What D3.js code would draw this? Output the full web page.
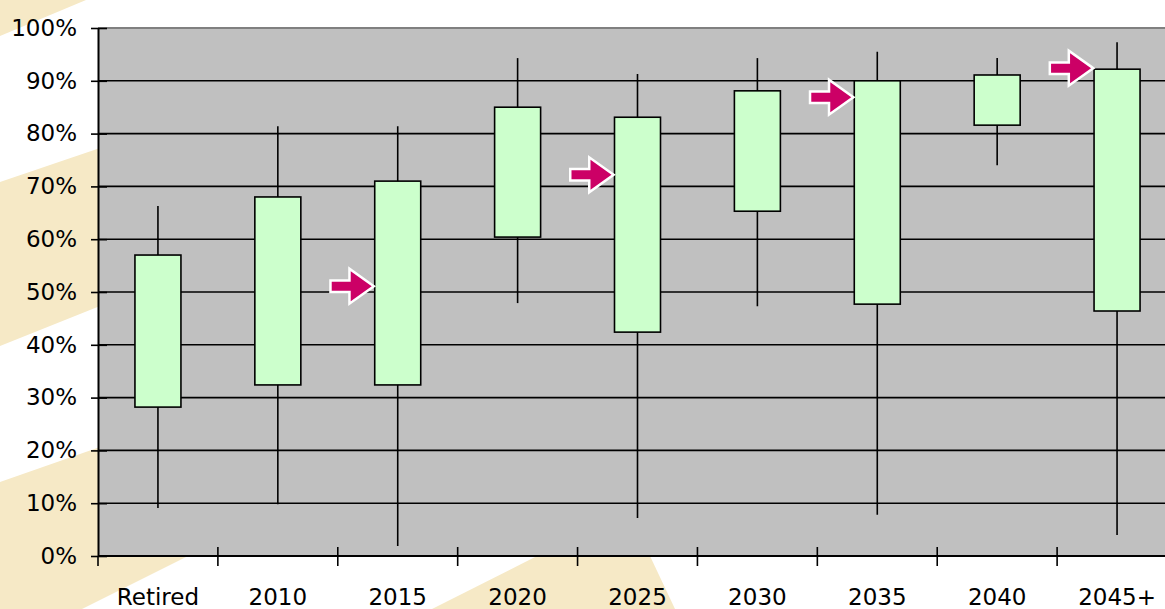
<!DOCTYPE html>
<html>
<head>
<meta charset="utf-8">
<script src="https://cdn.jsdelivr.net/npm/d3@7"></script>
<style>
  html, body { margin: 0; padding: 0; background: #ffffff; overflow: hidden; }
  svg { display: block; }
</style>
</head>
<body>
<svg id="chart" width="1165" height="609"></svg>
<script>
// ---- data ----
const categories = ["Retired", "2010", "2015", "2020", "2025", "2030", "2035", "2040", "2045+"];
const highValues = [0.663, 0.814, 0.814, 0.943, 0.913, 0.943, 0.955, 0.943, 0.973];
const boxTop     = [0.570, 0.680, 0.710, 0.850, 0.831, 0.881, 0.900, 0.911, 0.922];
const boxBottom  = [0.282, 0.324, 0.324, 0.604, 0.424, 0.653, 0.477, 0.816, 0.464];
const lowValues  = [0.091, 0.098, 0.019, 0.479, 0.072, 0.473, 0.078, 0.740, 0.040];
const arrowCategories = ["2015", "2025", "2035", "2045+"];
const arrowValues     = [0.511, 0.722, 0.869, 0.924];
const yTicks = [0, 0.1, 0.2, 0.3, 0.4, 0.5, 0.6, 0.7, 0.8, 0.9, 1.0];

(function () {
// ---- layout ----
const W = 1165, H = 609;
const pLeft = 98, pRight = 1177, pTop = 28, pBottom = 556;
const svg = d3.select("#chart");
const font = "'DejaVu Sans', sans-serif";

// decorative beige background bands
const beige = "#f6e9c6";
const bands = [
  [[0,0],[86,0],[0,36]],
  [[0,182],[100,148],[100,306],[0,346]],
  [[0,482],[100,447],[100,556],[188,556],[82,609],[0,609]],
  [[432,609],[537,556],[650,556],[675,609]]
];
svg.append("g").selectAll("polygon").data(bands).join("polygon")
  .attr("points", d => d.map(p => p.join(",")).join(" "))
  .attr("fill", beige);

const x = d3.scaleBand().domain(categories).range([pLeft, pRight]).padding(0);
const y = d3.scaleLinear().domain([0, 1]).range([pBottom, pTop]);

// plot area
svg.append("rect").attr("x", pLeft).attr("y", pTop).attr("width", W - pLeft).attr("height", pBottom - pTop)
  .attr("fill", "#c0c0c0");
svg.append("line").attr("x1", pLeft).attr("x2", W).attr("y1", pTop).attr("y2", pTop)
  .attr("stroke", "#808080").attr("stroke-width", 2);

// gridlines
svg.append("g").selectAll("line").data(yTicks.filter(d => d > 0 && d < 1)).join("line")
  .attr("x1", pLeft).attr("x2", W).attr("y1", d => y(d)).attr("y2", d => y(d))
  .attr("stroke", "#000").attr("stroke-width", 1.6);

// whiskers
const bw = 46;
const g = svg.append("g");
g.selectAll("line.wh").data(categories).join("line").attr("class", "wh")
  .attr("x1", d => x(d) + x.bandwidth() / 2).attr("x2", d => x(d) + x.bandwidth() / 2)
  .attr("y1", (d, i) => y(highValues[i])).attr("y2", (d, i) => y(lowValues[i]))
  .attr("stroke", "#000").attr("stroke-width", 1.6);
// boxes
g.selectAll("rect.box").data(categories).join("rect").attr("class", "box")
  .attr("x", d => x(d) + x.bandwidth() / 2 - bw / 2).attr("width", bw)
  .attr("y", (d, i) => y(boxTop[i])).attr("height", (d, i) => y(boxBottom[i]) - y(boxTop[i]))
  .attr("fill", "#ccffcc").attr("stroke", "#000").attr("stroke-width", 1.6);

// arrows
const arrowShape = [[0,0],[-21,-15],[-21,-4.5],[-40,-4.5],[-40,4.5],[-21,4.5],[-21,15]];
svg.append("g").selectAll("polygon").data(arrowCategories).join("polygon")
  .attr("points", arrowShape.map(p => p.join(",")).join(" "))
  .attr("transform", (d, i) => `translate(${x(d) + x.bandwidth() / 2 - bw / 2 - 3},${y(arrowValues[i])})`)
  .attr("fill", "#cc0066").attr("stroke", "#ffffff").attr("stroke-width", 5)
  .attr("stroke-linejoin", "miter").attr("paint-order", "stroke");

// y axis
const yAxis = svg.append("g").attr("transform", `translate(${pLeft},0)`)
  .call(d3.axisLeft(y).tickValues(yTicks).tickFormat(d3.format(".0%")).tickSize(7).tickSizeOuter(0).tickPadding(14));
yAxis.select(".domain").attr("stroke", "#000").attr("stroke-width", 2);
yAxis.selectAll(".tick line").attr("x2", -7).attr("x1", 9).attr("stroke", "#000").attr("stroke-width", 1.6);
yAxis.selectAll(".tick text").attr("font-family", font).attr("font-size", 23).attr("fill", "#000");

// x axis (labels centered in bands)
const xAxis = svg.append("g").attr("transform", `translate(0,${pBottom})`)
  .call(d3.axisBottom(x).tickSize(0).tickPadding(33));
xAxis.select(".domain").remove();
xAxis.selectAll(".tick text").attr("font-family", font).attr("font-size", 23).attr("fill", "#000");
svg.append("line").attr("x1", pLeft).attr("x2", W).attr("y1", pBottom).attr("y2", pBottom)
  .attr("stroke", "#000").attr("stroke-width", 2);
// boundary ticks
svg.append("g").selectAll("line").data(categories.slice(1)).join("line")
  .attr("x1", d => x(d)).attr("x2", d => x(d)).attr("y1", pBottom - 9).attr("y2", pBottom + 10)
  .attr("stroke", "#000").attr("stroke-width", 1.6);
svg.append("line").attr("x1", pLeft).attr("x2", pLeft).attr("y1", pBottom).attr("y2", pBottom + 10)
  .attr("stroke", "#000").attr("stroke-width", 1.6);
})();
</script>
</body>
</html>
